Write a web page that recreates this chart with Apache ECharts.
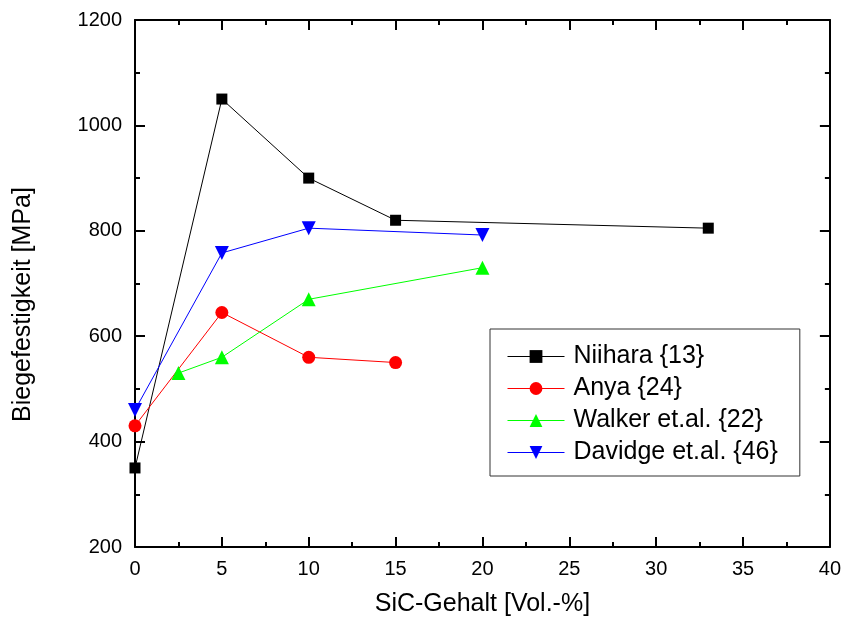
<!DOCTYPE html>
<html>
<head>
<meta charset="utf-8">
<script src="https://cdn.jsdelivr.net/npm/echarts@6/dist/echarts.min.js"></script>
<style>
  html, body { margin: 0; padding: 0; background: #fff; }
  #chart { width: 844px; height: 622px; }
</style>
</head>
<body>
<div id="chart"></div>
<script>
// values
const niiharaX = [0, 5, 10, 15, 33]
const niiharaY = [350, 1050, 900, 820, 805]
const anyaX = [0, 5, 10, 15]
const anyaY = [430, 645, 560, 550]
const walkerX = [2.5, 5, 10, 20]
const walkerY = [530, 560, 670, 730]
const davidgeX = [0, 5, 10, 20]
const davidgeY = [460, 758, 805, 792]

const font = 'Liberation Sans, Arial, sans-serif'

const pairs = (xs, ys) => xs.map((x, i) => [x, ys[i]])

const frameAxis = (extra) => Object.assign({
  type: 'value',
  axisLine: { show: true, onZero: false, lineStyle: { color: '#000', width: 2 } },
  axisTick: { show: true, inside: true, length: 10, lineStyle: { color: '#000', width: 2 } },
  minorTick: { show: true, splitNumber: 2, length: 5, lineStyle: { color: '#000', width: 2 } },
  splitLine: { show: false },
  axisLabel: { show: false }
}, extra)

const lineSeries = (name, xs, ys, color, symbol, size, rotate) => ({
  name,
  type: 'line',
  data: pairs(xs, ys),
  symbol,
  symbolSize: size,
  symbolRotate: rotate || 0,
  lineStyle: { color, width: 1 },
  itemStyle: { color },
  clip: false,
  z: 3
})

const chart = echarts.init(document.getElementById('chart'))
chart.setOption({
  animation: false,
  backgroundColor: '#fff',
  grid: { left: 135, right: 13, top: 20, bottom: 74 },
  xAxis: [
    frameAxis({
      position: 'bottom', min: 0, max: 40, interval: 5,
      name: 'SiC-Gehalt [Vol.-%]', nameLocation: 'middle', nameGap: 45,
      nameTextStyle: { fontFamily: font, fontSize: 25, color: '#000' },
      axisLabel: { show: true, margin: 12, fontFamily: font, fontSize: 20, color: '#000',
        formatter: v => String(v) }
    }),
    frameAxis({ position: 'top', min: 0, max: 40, interval: 5 })
  ],
  yAxis: [
    frameAxis({
      position: 'left', min: 200, max: 1200, interval: 200,
      name: 'Biegefestigkeit [MPa]', nameLocation: 'middle', nameGap: 99,
      nameTextStyle: { fontFamily: font, fontSize: 25, color: '#000', padding: [0, 42, 0, 0] },
      axisLabel: { show: true, margin: 13, fontFamily: font, fontSize: 20, color: '#000',
        formatter: v => String(v) }
    }),
    frameAxis({ position: 'right', min: 200, max: 1200, interval: 200 })
  ],
  legend: {
    orient: 'vertical',
    left: 490, top: 329,
    padding: [15, 22, 11, 17],
    itemGap: 7,
    itemWidth: 57,
    itemHeight: 16,
    borderColor: '#333',
    borderWidth: 1,
    lineStyle: { width: 1 },
    textStyle: { fontFamily: font, fontSize: 25, color: '#000', padding: [0, 0, 0, 4] },
    data: ['Niihara {13}', 'Anya {24}', 'Walker et.al. {22}', 'Davidge et.al. {46}']
  },
  series: [
    lineSeries('Niihara {13}', niiharaX, niiharaY, '#000000', 'rect', 11),
    lineSeries('Anya {24}', anyaX, anyaY, '#ff0000', 'circle', 13),
    lineSeries('Walker et.al. {22}', walkerX, walkerY, '#00ff00', 'triangle', 14),
    lineSeries('Davidge et.al. {46}', davidgeX, davidgeY, '#0000ff', 'triangle', 14, 180)
  ]
})
</script>
</body>
</html>
